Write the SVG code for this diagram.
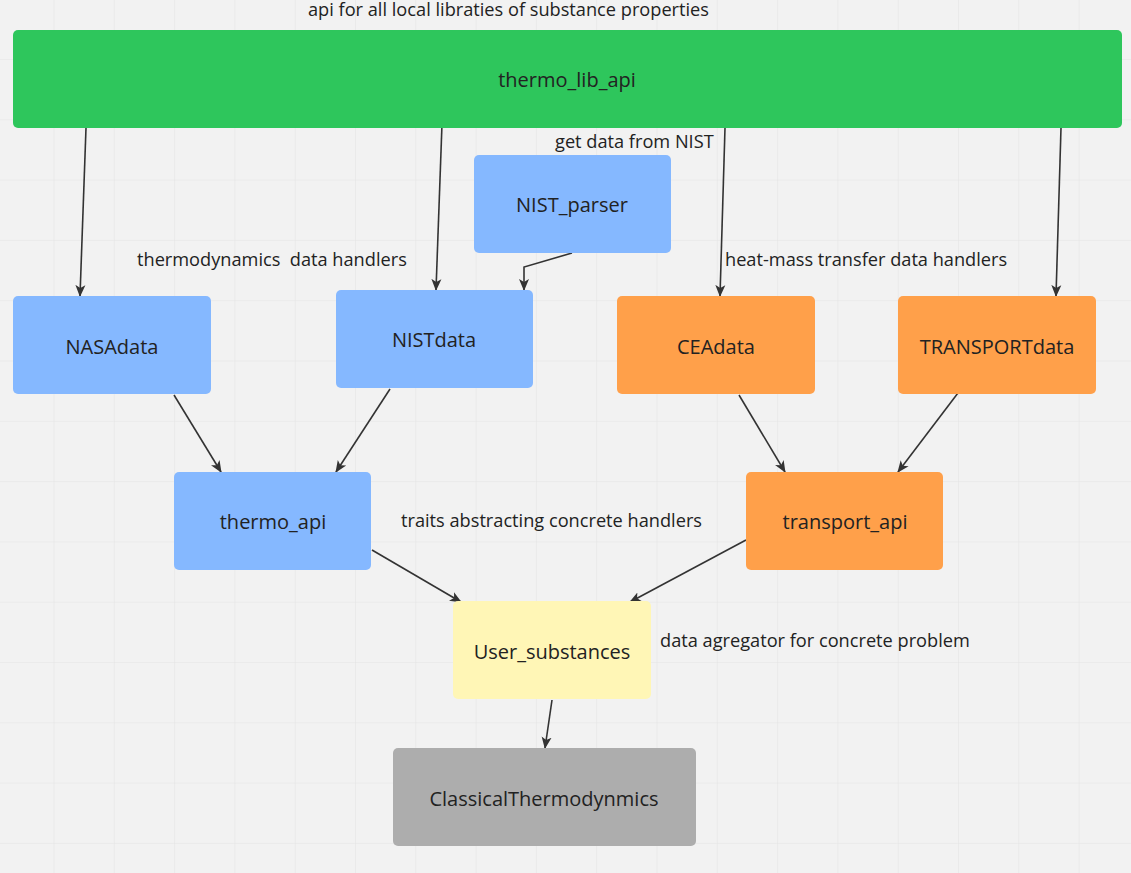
<svg xmlns="http://www.w3.org/2000/svg" width="1131" height="873" viewBox="0 0 1131 873">
<defs>
<pattern id="grid" x="53.5" y="59" width="60.3" height="60.3" patternUnits="userSpaceOnUse">
<path d="M0 0V60.3M0 0H60.3" fill="none" stroke="#e4e4e4" stroke-width="1.2"/>
</pattern>
<marker id="arr" viewBox="0 0 12 12" refX="11" refY="6" markerWidth="12" markerHeight="12" markerUnits="userSpaceOnUse" orient="auto">
<path d="M0 1L12 6L0 11L3 6Z" fill="#333"/>
</marker>
<style>
.n{font-family:"Open Sans","Noto Sans",sans-serif;font-size:20px;fill:#222;text-anchor:middle;dominant-baseline:central}
.l{font-family:"Open Sans","Noto Sans",sans-serif;font-size:18.2px;fill:#222;white-space:pre}
.c{fill:none;stroke:#333;stroke-width:1.6;marker-end:url(#arr)}
.blue{fill:#85b8ff}
.orange{fill:#ffa04a}
</style>
</defs>
<rect width="1131" height="873" fill="#f2f2f2"/>
<rect width="1131" height="873" fill="url(#grid)"/>

<g id="connectors">
<line class="c" x1="86" y1="128" x2="80" y2="296"/>
<line class="c" x1="442" y1="124" x2="436" y2="290"/>
<polyline class="c" points="572,253 524,267 524,290"/>
<line class="c" x1="725" y1="128" x2="720" y2="296"/>
<line class="c" x1="1061" y1="128" x2="1056" y2="296"/>
<line class="c" x1="174" y1="395" x2="221" y2="472"/>
<line class="c" x1="390" y1="389" x2="336" y2="472"/>
<line class="c" x1="739" y1="395" x2="785" y2="472"/>
<line class="c" x1="961" y1="389" x2="898" y2="472"/>
<line class="c" x1="372" y1="550" x2="461" y2="602"/>
<line class="c" x1="746" y1="540" x2="630" y2="602"/>
<line class="c" x1="552" y1="700" x2="545" y2="748"/>
</g>

<g id="thermo_lib_api"><rect x="13" y="30" width="1109" height="98" rx="5" fill="#2ec65c"/><text class="n" x="567" y="79">thermo_lib_api</text></g>
<g id="NIST_parser"><rect class="blue" x="474" y="155" width="197" height="98" rx="5"/><text class="n" x="572" y="204">NIST_parser</text></g>
<g id="NASAdata"><rect class="blue" x="13" y="296" width="198" height="98" rx="5"/><text class="n" x="112" y="346">NASAdata</text></g>
<g id="NISTdata"><rect class="blue" x="336" y="290" width="197" height="98" rx="5"/><text class="n" x="434" y="339">NISTdata</text></g>
<g id="CEAdata"><rect class="orange" x="617" y="296" width="198" height="98" rx="5"/><text class="n" x="716" y="346">CEAdata</text></g>
<g id="TRANSPORTdata"><rect class="orange" x="898" y="296" width="198" height="98" rx="5"/><text class="n" x="997" y="346">TRANSPORTdata</text></g>
<g id="thermo_api"><rect class="blue" x="174" y="472" width="197" height="98" rx="5"/><text class="n" x="273" y="521">thermo_api</text></g>
<g id="transport_api"><rect class="orange" x="746" y="472" width="197" height="98" rx="5"/><text class="n" x="845" y="521">transport_api</text></g>
<g id="User_substances"><rect x="453" y="601" width="198" height="98" rx="5" fill="#fff6b6"/><text class="n" x="552" y="651">User_substances</text></g>
<g id="ClassicalThermodynmics"><rect x="393" y="748" width="303" height="98" rx="5" fill="#adadad"/><text class="n" x="544" y="798">ClassicalThermodynmics</text></g>

<g id="labels">
<text class="l" x="308" y="16">api for all local libraties of substance properties</text>
<text class="l" x="555" y="148">get data from NIST</text>
<text class="l" x="137" y="266" xml:space="preserve">thermodynamics  data handlers</text>
<text class="l" x="725" y="266">heat-mass transfer data handlers</text>
<text class="l" x="401" y="527">traits abstracting concrete handlers</text>
<text class="l" x="660" y="647">data agregator for concrete problem</text>
</g>
</svg>
